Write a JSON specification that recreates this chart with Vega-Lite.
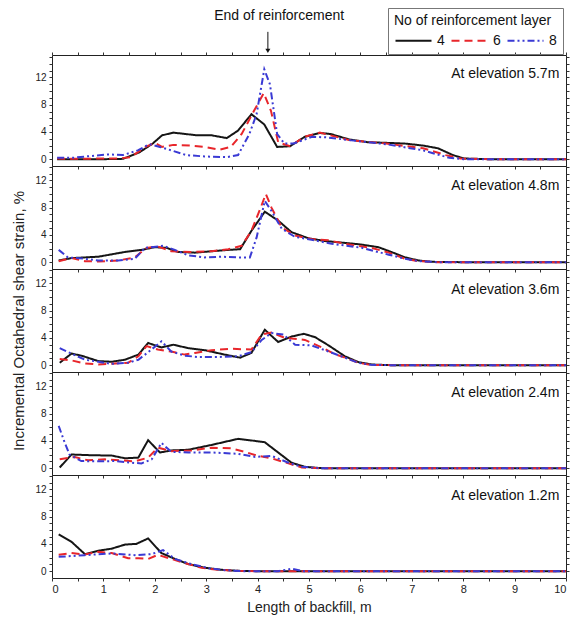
{
"$schema": "https://vega.github.io/schema/vega-lite/v6.json",
"padding": {"left": 11, "top": 7, "right": 2, "bottom": 5},
"config": {
  "font": "Liberation Sans",
  "view": {"stroke": "#222", "strokeWidth": 1},
  "axis": {"domain": false, "grid": false, "tickColor": "#333", "tickSize": 3, "labelFontSize": 10, "labelColor": "#222", "labelPadding": 3, "titleFontSize": 14, "titleFontWeight": "normal", "titleColor": "#222"},
  "legend": {"orient": "none", "legendX": 336, "legendY": -47, "direction": "horizontal", "strokeColor": "#777", "padding": 6, "titleFontSize": 14, "titleFontWeight": "normal", "titleColor": "#111", "labelFontSize": 14, "labelColor": "#111", "symbolType": "M-2.4,0L2.4,0", "symbolSize": 225, "symbolStrokeWidth": 2, "symbolOffset": 11, "columnPadding": 2, "labelOffset": 15, "titlePadding": 4}
},
"spacing": 0,
"bounds": "flush",
"resolve": {"scale": {"color": "shared", "strokeDash": "shared"}, "legend": {"color": "shared", "strokeDash": "shared"}},
"datasets": {
"d": [
{"p":"5.7","n":"4","x":0.1,"y":0},{"p":"5.7","n":"4","x":0.5,"y":0},{"p":"5.7","n":"4","x":1,"y":0},{"p":"5.7","n":"4","x":1.38,"y":0.05},{"p":"5.7","n":"4","x":1.7,"y":1.0},{"p":"5.7","n":"4","x":1.96,"y":2.3},{"p":"5.7","n":"4","x":2.14,"y":3.5},{"p":"5.7","n":"4","x":2.36,"y":3.9},{"p":"5.7","n":"4","x":2.83,"y":3.5},{"p":"5.7","n":"4","x":3.11,"y":3.5},{"p":"5.7","n":"4","x":3.4,"y":3.1},{"p":"5.7","n":"4","x":3.62,"y":4.2},{"p":"5.7","n":"4","x":3.88,"y":6.6},{"p":"5.7","n":"4","x":4.13,"y":5.1},{"p":"5.7","n":"4","x":4.38,"y":1.8},{"p":"5.7","n":"4","x":4.63,"y":1.9},{"p":"5.7","n":"4","x":4.92,"y":3.3},{"p":"5.7","n":"4","x":5.21,"y":3.85},{"p":"5.7","n":"4","x":5.42,"y":3.7},{"p":"5.7","n":"4","x":5.78,"y":2.9},{"p":"5.7","n":"4","x":6.14,"y":2.5},{"p":"5.7","n":"4","x":6.86,"y":2.3},{"p":"5.7","n":"4","x":7.22,"y":2.0},{"p":"5.7","n":"4","x":7.51,"y":1.6},{"p":"5.7","n":"4","x":7.8,"y":0.6},{"p":"5.7","n":"4","x":8.02,"y":0.1},{"p":"5.7","n":"4","x":8.5,"y":0},{"p":"5.7","n":"4","x":9,"y":0},{"p":"5.7","n":"4","x":9.5,"y":0},{"p":"5.7","n":"4","x":10,"y":0},
{"p":"5.7","n":"6","x":0.1,"y":0.1},{"p":"5.7","n":"6","x":0.5,"y":0.05},{"p":"5.7","n":"6","x":1,"y":0.1},{"p":"5.7","n":"6","x":1.3,"y":0.1},{"p":"5.7","n":"6","x":1.53,"y":0.3},{"p":"5.7","n":"6","x":1.82,"y":1.8},{"p":"5.7","n":"6","x":2.0,"y":2.4},{"p":"5.7","n":"6","x":2.14,"y":1.8},{"p":"5.7","n":"6","x":2.36,"y":2.1},{"p":"5.7","n":"6","x":2.68,"y":2.0},{"p":"5.7","n":"6","x":2.97,"y":1.8},{"p":"5.7","n":"6","x":3.26,"y":1.4},{"p":"5.7","n":"6","x":3.48,"y":1.8},{"p":"5.7","n":"6","x":3.69,"y":3.7},{"p":"5.7","n":"6","x":3.93,"y":7.1},{"p":"5.7","n":"6","x":4.12,"y":9.7},{"p":"5.7","n":"6","x":4.26,"y":7.1},{"p":"5.7","n":"6","x":4.4,"y":2.5},{"p":"5.7","n":"6","x":4.63,"y":1.9},{"p":"5.7","n":"6","x":4.92,"y":3.3},{"p":"5.7","n":"6","x":5.21,"y":3.9},{"p":"5.7","n":"6","x":5.78,"y":2.8},{"p":"5.7","n":"6","x":6.5,"y":2.3},{"p":"5.7","n":"6","x":7.22,"y":1.6},{"p":"5.7","n":"6","x":7.66,"y":0.6},{"p":"5.7","n":"6","x":7.95,"y":0.1},{"p":"5.7","n":"6","x":8.5,"y":0},{"p":"5.7","n":"6","x":9,"y":0},{"p":"5.7","n":"6","x":9.5,"y":0},{"p":"5.7","n":"6","x":10,"y":0},
{"p":"5.7","n":"8","x":0.1,"y":0.2},{"p":"5.7","n":"8","x":0.4,"y":0.2},{"p":"5.7","n":"8","x":0.66,"y":0.4},{"p":"5.7","n":"8","x":1.1,"y":0.7},{"p":"5.7","n":"8","x":1.38,"y":0.6},{"p":"5.7","n":"8","x":1.67,"y":1.3},{"p":"5.7","n":"8","x":1.89,"y":2.2},{"p":"5.7","n":"8","x":2.1,"y":1.8},{"p":"5.7","n":"8","x":2.32,"y":1.3},{"p":"5.7","n":"8","x":2.61,"y":0.6},{"p":"5.7","n":"8","x":2.97,"y":0.4},{"p":"5.7","n":"8","x":3.4,"y":0.3},{"p":"5.7","n":"8","x":3.62,"y":0.6},{"p":"5.7","n":"8","x":3.84,"y":3.7},{"p":"5.7","n":"8","x":3.98,"y":6.6},{"p":"5.7","n":"8","x":4.13,"y":13.2},{"p":"5.7","n":"8","x":4.24,"y":11},{"p":"5.7","n":"8","x":4.38,"y":3.7},{"p":"5.7","n":"8","x":4.52,"y":2.3},{"p":"5.7","n":"8","x":4.7,"y":2.3},{"p":"5.7","n":"8","x":5.06,"y":3.3},{"p":"5.7","n":"8","x":5.35,"y":3.2},{"p":"5.7","n":"8","x":5.78,"y":2.8},{"p":"5.7","n":"8","x":6.5,"y":2.2},{"p":"5.7","n":"8","x":7.22,"y":1.3},{"p":"5.7","n":"8","x":7.73,"y":0.2},{"p":"5.7","n":"8","x":8,"y":0},{"p":"5.7","n":"8","x":8.5,"y":0},{"p":"5.7","n":"8","x":9,"y":0},{"p":"5.7","n":"8","x":9.5,"y":0},{"p":"5.7","n":"8","x":10,"y":0},
{"p":"4.8","n":"4","x":0.13,"y":0.25},{"p":"4.8","n":"4","x":0.38,"y":0.6},{"p":"4.8","n":"4","x":0.9,"y":0.8},{"p":"4.8","n":"4","x":1.42,"y":1.5},{"p":"4.8","n":"4","x":1.74,"y":1.8},{"p":"4.8","n":"4","x":2.0,"y":2.2},{"p":"4.8","n":"4","x":2.23,"y":2.1},{"p":"4.8","n":"4","x":2.45,"y":1.5},{"p":"4.8","n":"4","x":2.78,"y":1.4},{"p":"4.8","n":"4","x":3.1,"y":1.6},{"p":"4.8","n":"4","x":3.43,"y":1.8},{"p":"4.8","n":"4","x":3.66,"y":1.9},{"p":"4.8","n":"4","x":3.88,"y":4.6},{"p":"4.8","n":"4","x":4.14,"y":7.4},{"p":"4.8","n":"4","x":4.4,"y":6.1},{"p":"4.8","n":"4","x":4.66,"y":4.4},{"p":"4.8","n":"4","x":4.99,"y":3.5},{"p":"4.8","n":"4","x":5.31,"y":3.1},{"p":"4.8","n":"4","x":5.6,"y":2.9},{"p":"4.8","n":"4","x":6.0,"y":2.6},{"p":"4.8","n":"4","x":6.35,"y":2.2},{"p":"4.8","n":"4","x":6.6,"y":1.5},{"p":"4.8","n":"4","x":6.87,"y":0.7},{"p":"4.8","n":"4","x":7.13,"y":0.25},{"p":"4.8","n":"4","x":7.39,"y":0.05},{"p":"4.8","n":"4","x":8,"y":0},{"p":"4.8","n":"4","x":9,"y":0},{"p":"4.8","n":"4","x":10,"y":0},
{"p":"4.8","n":"6","x":0.13,"y":0.15},{"p":"4.8","n":"6","x":0.38,"y":0.6},{"p":"4.8","n":"6","x":0.64,"y":0.15},{"p":"4.8","n":"6","x":0.9,"y":0.1},{"p":"4.8","n":"6","x":1.29,"y":0.25},{"p":"4.8","n":"6","x":1.61,"y":0.7},{"p":"4.8","n":"6","x":1.84,"y":2.1},{"p":"4.8","n":"6","x":2.06,"y":2.3},{"p":"4.8","n":"6","x":2.32,"y":1.6},{"p":"4.8","n":"6","x":2.71,"y":1.5},{"p":"4.8","n":"6","x":3.1,"y":1.6},{"p":"4.8","n":"6","x":3.43,"y":1.9},{"p":"4.8","n":"6","x":3.69,"y":2.4},{"p":"4.8","n":"6","x":3.88,"y":4.6},{"p":"4.8","n":"6","x":4.05,"y":7.8},{"p":"4.8","n":"6","x":4.16,"y":10.0},{"p":"4.8","n":"6","x":4.27,"y":8.0},{"p":"4.8","n":"6","x":4.47,"y":5.1},{"p":"4.8","n":"6","x":4.73,"y":3.9},{"p":"4.8","n":"6","x":5.05,"y":3.4},{"p":"4.8","n":"6","x":5.38,"y":3.2},{"p":"4.8","n":"6","x":5.7,"y":2.7},{"p":"4.8","n":"6","x":6.22,"y":2.1},{"p":"4.8","n":"6","x":6.55,"y":1.4},{"p":"4.8","n":"6","x":6.87,"y":0.5},{"p":"4.8","n":"6","x":7.13,"y":0.15},{"p":"4.8","n":"6","x":7.5,"y":0},{"p":"4.8","n":"6","x":8,"y":0},{"p":"4.8","n":"6","x":9,"y":0},{"p":"4.8","n":"6","x":10,"y":0},
{"p":"4.8","n":"8","x":0.13,"y":1.8},{"p":"4.8","n":"8","x":0.31,"y":0.7},{"p":"4.8","n":"8","x":0.64,"y":0.5},{"p":"4.8","n":"8","x":0.9,"y":0.25},{"p":"4.8","n":"8","x":1.29,"y":0.25},{"p":"4.8","n":"8","x":1.61,"y":0.5},{"p":"4.8","n":"8","x":1.81,"y":2.1},{"p":"4.8","n":"8","x":2.16,"y":2.4},{"p":"4.8","n":"8","x":2.39,"y":1.8},{"p":"4.8","n":"8","x":2.65,"y":1.0},{"p":"4.8","n":"8","x":2.97,"y":0.7},{"p":"4.8","n":"8","x":3.3,"y":0.8},{"p":"4.8","n":"8","x":3.62,"y":0.7},{"p":"4.8","n":"8","x":3.85,"y":0.7},{"p":"4.8","n":"8","x":3.98,"y":3.6},{"p":"4.8","n":"8","x":4.14,"y":9.0},{"p":"4.8","n":"8","x":4.27,"y":7.5},{"p":"4.8","n":"8","x":4.47,"y":4.9},{"p":"4.8","n":"8","x":4.73,"y":3.7},{"p":"4.8","n":"8","x":5.05,"y":3.3},{"p":"4.8","n":"8","x":5.44,"y":2.7},{"p":"4.8","n":"8","x":6.03,"y":2.1},{"p":"4.8","n":"8","x":6.55,"y":1.1},{"p":"4.8","n":"8","x":6.87,"y":0.5},{"p":"4.8","n":"8","x":7.13,"y":0.15},{"p":"4.8","n":"8","x":7.5,"y":0},{"p":"4.8","n":"8","x":8,"y":0},{"p":"4.8","n":"8","x":9,"y":0},{"p":"4.8","n":"8","x":10,"y":0},
{"p":"3.6","n":"4","x":0.15,"y":0.35},{"p":"3.6","n":"4","x":0.38,"y":1.7},{"p":"3.6","n":"4","x":0.57,"y":1.4},{"p":"3.6","n":"4","x":0.9,"y":0.6},{"p":"3.6","n":"4","x":1.16,"y":0.5},{"p":"3.6","n":"4","x":1.42,"y":0.8},{"p":"3.6","n":"4","x":1.68,"y":1.55},{"p":"3.6","n":"4","x":1.87,"y":3.25},{"p":"3.6","n":"4","x":2.13,"y":2.6},{"p":"3.6","n":"4","x":2.36,"y":3.0},{"p":"3.6","n":"4","x":2.65,"y":2.5},{"p":"3.6","n":"4","x":2.97,"y":2.2},{"p":"3.6","n":"4","x":3.36,"y":1.55},{"p":"3.6","n":"4","x":3.66,"y":1.1},{"p":"3.6","n":"4","x":3.88,"y":1.8},{"p":"3.6","n":"4","x":4.14,"y":5.2},{"p":"3.6","n":"4","x":4.4,"y":3.4},{"p":"3.6","n":"4","x":4.66,"y":4.2},{"p":"3.6","n":"4","x":4.9,"y":4.6},{"p":"3.6","n":"4","x":5.12,"y":4.1},{"p":"3.6","n":"4","x":5.38,"y":2.9},{"p":"3.6","n":"4","x":5.7,"y":1.3},{"p":"3.6","n":"4","x":5.96,"y":0.45},{"p":"3.6","n":"4","x":6.22,"y":0.1},{"p":"3.6","n":"4","x":6.6,"y":0},{"p":"3.6","n":"4","x":7,"y":0},{"p":"3.6","n":"4","x":8,"y":0},{"p":"3.6","n":"4","x":9,"y":0},{"p":"3.6","n":"4","x":10,"y":0},
{"p":"3.6","n":"6","x":0.15,"y":0.9},{"p":"3.6","n":"6","x":0.38,"y":0.7},{"p":"3.6","n":"6","x":0.64,"y":0.25},{"p":"3.6","n":"6","x":0.9,"y":0.1},{"p":"3.6","n":"6","x":1.16,"y":0.2},{"p":"3.6","n":"6","x":1.48,"y":0.35},{"p":"3.6","n":"6","x":1.68,"y":1.3},{"p":"3.6","n":"6","x":1.84,"y":2.8},{"p":"3.6","n":"6","x":2.06,"y":2.3},{"p":"3.6","n":"6","x":2.32,"y":2.0},{"p":"3.6","n":"6","x":2.58,"y":1.55},{"p":"3.6","n":"6","x":2.78,"y":1.8},{"p":"3.6","n":"6","x":3.1,"y":2.2},{"p":"3.6","n":"6","x":3.49,"y":2.4},{"p":"3.6","n":"6","x":3.88,"y":2.3},{"p":"3.6","n":"6","x":4.08,"y":4.5},{"p":"3.6","n":"6","x":4.27,"y":4.8},{"p":"3.6","n":"6","x":4.53,"y":4.0},{"p":"3.6","n":"6","x":4.92,"y":3.7},{"p":"3.6","n":"6","x":5.25,"y":2.6},{"p":"3.6","n":"6","x":5.51,"y":1.6},{"p":"3.6","n":"6","x":5.7,"y":1.1},{"p":"3.6","n":"6","x":5.96,"y":0.35},{"p":"3.6","n":"6","x":6.2,"y":0.05},{"p":"3.6","n":"6","x":6.6,"y":0},{"p":"3.6","n":"6","x":7,"y":0},{"p":"3.6","n":"6","x":8,"y":0},{"p":"3.6","n":"6","x":9,"y":0},{"p":"3.6","n":"6","x":10,"y":0},
{"p":"3.6","n":"8","x":0.15,"y":2.5},{"p":"3.6","n":"8","x":0.38,"y":1.7},{"p":"3.6","n":"8","x":0.64,"y":0.8},{"p":"3.6","n":"8","x":0.9,"y":0.5},{"p":"3.6","n":"8","x":1.16,"y":0.2},{"p":"3.6","n":"8","x":1.48,"y":0.35},{"p":"3.6","n":"8","x":1.68,"y":0.8},{"p":"3.6","n":"8","x":1.87,"y":1.9},{"p":"3.6","n":"8","x":2.13,"y":3.5},{"p":"3.6","n":"8","x":2.32,"y":2.0},{"p":"3.6","n":"8","x":2.58,"y":1.4},{"p":"3.6","n":"8","x":2.84,"y":1.2},{"p":"3.6","n":"8","x":3.23,"y":1.2},{"p":"3.6","n":"8","x":3.62,"y":1.3},{"p":"3.6","n":"8","x":3.88,"y":1.9},{"p":"3.6","n":"8","x":4.08,"y":3.7},{"p":"3.6","n":"8","x":4.27,"y":4.7},{"p":"3.6","n":"8","x":4.5,"y":4.5},{"p":"3.6","n":"8","x":4.73,"y":3.0},{"p":"3.6","n":"8","x":5.05,"y":2.9},{"p":"3.6","n":"8","x":5.38,"y":2.0},{"p":"3.6","n":"8","x":5.7,"y":1.1},{"p":"3.6","n":"8","x":5.96,"y":0.35},{"p":"3.6","n":"8","x":6.2,"y":0.05},{"p":"3.6","n":"8","x":6.6,"y":0},{"p":"3.6","n":"8","x":7,"y":0},{"p":"3.6","n":"8","x":8,"y":0},{"p":"3.6","n":"8","x":9,"y":0},{"p":"3.6","n":"8","x":10,"y":0},
{"p":"2.4","n":"4","x":0.15,"y":0.1},{"p":"2.4","n":"4","x":0.38,"y":2.0},{"p":"2.4","n":"4","x":0.77,"y":1.9},{"p":"2.4","n":"4","x":1.16,"y":1.85},{"p":"2.4","n":"4","x":1.42,"y":1.45},{"p":"2.4","n":"4","x":1.68,"y":1.55},{"p":"2.4","n":"4","x":1.87,"y":4.1},{"p":"2.4","n":"4","x":2.1,"y":2.3},{"p":"2.4","n":"4","x":2.32,"y":2.6},{"p":"2.4","n":"4","x":2.65,"y":2.7},{"p":"2.4","n":"4","x":3.1,"y":3.4},{"p":"2.4","n":"4","x":3.62,"y":4.3},{"p":"2.4","n":"4","x":3.95,"y":4.0},{"p":"2.4","n":"4","x":4.14,"y":3.8},{"p":"2.4","n":"4","x":4.4,"y":2.3},{"p":"2.4","n":"4","x":4.66,"y":0.8},{"p":"2.4","n":"4","x":4.92,"y":0.2},{"p":"2.4","n":"4","x":5.25,"y":0},{"p":"2.4","n":"4","x":6,"y":0},{"p":"2.4","n":"4","x":7,"y":0},{"p":"2.4","n":"4","x":8,"y":0},{"p":"2.4","n":"4","x":9,"y":0},{"p":"2.4","n":"4","x":10,"y":0},
{"p":"2.4","n":"6","x":0.15,"y":1.3},{"p":"2.4","n":"6","x":0.44,"y":1.65},{"p":"2.4","n":"6","x":0.7,"y":1.15},{"p":"2.4","n":"6","x":1.03,"y":1.3},{"p":"2.4","n":"6","x":1.35,"y":1.15},{"p":"2.4","n":"6","x":1.61,"y":1.0},{"p":"2.4","n":"6","x":1.87,"y":1.55},{"p":"2.4","n":"6","x":2.06,"y":3.0},{"p":"2.4","n":"6","x":2.32,"y":2.5},{"p":"2.4","n":"6","x":2.71,"y":2.6},{"p":"2.4","n":"6","x":3.1,"y":3.0},{"p":"2.4","n":"6","x":3.49,"y":2.9},{"p":"2.4","n":"6","x":3.75,"y":2.4},{"p":"2.4","n":"6","x":4.01,"y":1.8},{"p":"2.4","n":"6","x":4.27,"y":1.45},{"p":"2.4","n":"6","x":4.6,"y":0.7},{"p":"2.4","n":"6","x":4.86,"y":0.1},{"p":"2.4","n":"6","x":5.2,"y":0},{"p":"2.4","n":"6","x":6,"y":0},{"p":"2.4","n":"6","x":7,"y":0},{"p":"2.4","n":"6","x":8,"y":0},{"p":"2.4","n":"6","x":9,"y":0},{"p":"2.4","n":"6","x":10,"y":0},
{"p":"2.4","n":"8","x":0.13,"y":6.2},{"p":"2.4","n":"8","x":0.25,"y":3.7},{"p":"2.4","n":"8","x":0.34,"y":2.0},{"p":"2.4","n":"8","x":0.57,"y":1.05},{"p":"2.4","n":"8","x":0.9,"y":1.0},{"p":"2.4","n":"8","x":1.22,"y":1.05},{"p":"2.4","n":"8","x":1.55,"y":0.8},{"p":"2.4","n":"8","x":1.74,"y":0.7},{"p":"2.4","n":"8","x":1.94,"y":1.3},{"p":"2.4","n":"8","x":2.13,"y":3.7},{"p":"2.4","n":"8","x":2.32,"y":2.4},{"p":"2.4","n":"8","x":2.65,"y":2.3},{"p":"2.4","n":"8","x":3.1,"y":2.3},{"p":"2.4","n":"8","x":3.62,"y":2.1},{"p":"2.4","n":"8","x":3.95,"y":1.65},{"p":"2.4","n":"8","x":4.27,"y":1.8},{"p":"2.4","n":"8","x":4.6,"y":0.8},{"p":"2.4","n":"8","x":4.86,"y":0.2},{"p":"2.4","n":"8","x":5.2,"y":0},{"p":"2.4","n":"8","x":6,"y":0},{"p":"2.4","n":"8","x":7,"y":0},{"p":"2.4","n":"8","x":8,"y":0},{"p":"2.4","n":"8","x":9,"y":0},{"p":"2.4","n":"8","x":10,"y":0},
{"p":"1.2","n":"4","x":0.13,"y":5.4},{"p":"1.2","n":"4","x":0.38,"y":4.3},{"p":"1.2","n":"4","x":0.64,"y":2.5},{"p":"1.2","n":"4","x":0.9,"y":3.0},{"p":"1.2","n":"4","x":1.16,"y":3.3},{"p":"1.2","n":"4","x":1.42,"y":3.9},{"p":"1.2","n":"4","x":1.64,"y":4.0},{"p":"1.2","n":"4","x":1.87,"y":4.8},{"p":"1.2","n":"4","x":2.13,"y":2.65},{"p":"1.2","n":"4","x":2.39,"y":1.8},{"p":"1.2","n":"4","x":2.65,"y":1.05},{"p":"1.2","n":"4","x":2.97,"y":0.5},{"p":"1.2","n":"4","x":3.3,"y":0.2},{"p":"1.2","n":"4","x":3.62,"y":0.05},{"p":"1.2","n":"4","x":4,"y":0},{"p":"1.2","n":"4","x":5,"y":0},{"p":"1.2","n":"4","x":6,"y":0},{"p":"1.2","n":"4","x":7,"y":0},{"p":"1.2","n":"4","x":8,"y":0},{"p":"1.2","n":"4","x":9,"y":0},{"p":"1.2","n":"4","x":10,"y":0},
{"p":"1.2","n":"6","x":0.13,"y":2.4},{"p":"1.2","n":"6","x":0.38,"y":2.65},{"p":"1.2","n":"6","x":0.64,"y":2.45},{"p":"1.2","n":"6","x":0.9,"y":2.85},{"p":"1.2","n":"6","x":1.16,"y":2.65},{"p":"1.2","n":"6","x":1.48,"y":1.9},{"p":"1.2","n":"6","x":1.68,"y":1.9},{"p":"1.2","n":"6","x":1.87,"y":1.8},{"p":"1.2","n":"6","x":2.06,"y":2.4},{"p":"1.2","n":"6","x":2.32,"y":1.8},{"p":"1.2","n":"6","x":2.58,"y":1.2},{"p":"1.2","n":"6","x":2.91,"y":0.5},{"p":"1.2","n":"6","x":3.23,"y":0.2},{"p":"1.2","n":"6","x":3.62,"y":0.05},{"p":"1.2","n":"6","x":4,"y":0},{"p":"1.2","n":"6","x":5,"y":0},{"p":"1.2","n":"6","x":6,"y":0},{"p":"1.2","n":"6","x":7,"y":0},{"p":"1.2","n":"6","x":8,"y":0},{"p":"1.2","n":"6","x":9,"y":0},{"p":"1.2","n":"6","x":10,"y":0},
{"p":"1.2","n":"8","x":0.13,"y":2.1},{"p":"1.2","n":"8","x":0.64,"y":2.35},{"p":"1.2","n":"8","x":1.16,"y":2.6},{"p":"1.2","n":"8","x":1.61,"y":2.35},{"p":"1.2","n":"8","x":1.94,"y":2.5},{"p":"1.2","n":"8","x":2.16,"y":3.1},{"p":"1.2","n":"8","x":2.39,"y":1.8},{"p":"1.2","n":"8","x":2.71,"y":1.05},{"p":"1.2","n":"8","x":3.04,"y":0.45},{"p":"1.2","n":"8","x":3.36,"y":0.15},{"p":"1.2","n":"8","x":3.7,"y":0},{"p":"1.2","n":"8","x":4.4,"y":0},{"p":"1.2","n":"8","x":4.66,"y":0.35},{"p":"1.2","n":"8","x":4.9,"y":0},{"p":"1.2","n":"8","x":6,"y":0},{"p":"1.2","n":"8","x":7,"y":0},{"p":"1.2","n":"8","x":8,"y":0},{"p":"1.2","n":"8","x":9,"y":0},{"p":"1.2","n":"8","x":10,"y":0}
]
},
"vconcat": [
{
 "width": 514, "height": 111,
 "layer": [
  {"data": {"name": "d"}, "transform": [{"filter": "datum.p == '5.7'"}],
   "mark": {"type": "line", "strokeWidth": 2, "clip": true},
   "encoding": {
    "x": {"field": "x", "type": "quantitative", "scale": {"domain": [0, 10], "nice": false}, "axis": {"values": [0,0.5,1,1.5,2,2.5,3,3.5,4,4.5,5,5.5,6,6.5,7,7.5,8,8.5,9,9.5,10], "labels": false, "title": null}},
    "y": {"field": "y", "type": "quantitative", "scale": {"domain": [-1, 15.3], "nice": false, "zero": false}, "axis": {"values": [0,1,2,3,4,5,6,7,8,9,10,11,12,13,14,15], "labelExpr": "datum.value % 4 == 0 ? datum.label : ''", "title": null}},
    "color": {"field": "n", "type": "nominal", "title": "No of reinforcement layer", "scale": {"domain": ["4","6","8"], "range": ["#151515","#e8262b","#3a3ad4"]}},
    "strokeDash": {"field": "n", "type": "nominal", "title": "No of reinforcement layer", "scale": {"domain": ["4","6","8"], "range": [[1,0],[8,5],[7,3,2,3,2,3]]}}
   }},
  {"data": {"values": [{"t": "At elevation 5.7m", "x": 9.87, "y": 12.5}]},
   "mark": {"type": "text", "align": "right", "baseline": "middle", "fontSize": 14, "color": "#111"},
   "encoding": {
    "x": {"field": "x", "type": "quantitative", "axis": {"orient": "top", "values": [0,0.5,1,1.5,2,2.5,3,3.5,4,4.5,5,5.5,6,6.5,7,7.5,8,8.5,9,9.5,10], "labels": false, "title": null}},
    "y": {"field": "y", "type": "quantitative", "axis": {"orient": "right", "values": [0,1,2,3,4,5,6,7,8,9,10,11,12,13,14,15], "labels": false, "title": null}},
    "text": {"field": "t"}
   }},
  {"data": {"values": [{"t": "End of reinforcement", "x": 4.42, "y": 21.1}]},
   "mark": {"type": "text", "align": "center", "baseline": "middle", "fontSize": 14, "color": "#111"},
   "encoding": {"x": {"field": "x", "type": "quantitative", "axis": null}, "y": {"field": "y", "type": "quantitative", "axis": null}, "text": {"field": "t"}}},
  {"data": {"values": [{"x": 4.2, "y": 18.7, "y2": 16.0}]},
   "mark": {"type": "rule", "color": "#111", "strokeWidth": 1},
   "encoding": {"x": {"field": "x", "type": "quantitative", "axis": null}, "y": {"field": "y", "type": "quantitative", "axis": null}, "y2": {"field": "y2"}}},
  {"data": {"values": [{"x": 4.2, "y": 15.9}]},
   "mark": {"type": "point", "shape": "triangle-down", "filled": true, "color": "#111", "size": 25, "opacity": 1},
   "encoding": {"x": {"field": "x", "type": "quantitative", "axis": null}, "y": {"field": "y", "type": "quantitative", "axis": null}}}
 ],
 "resolve": {"axis": {"x": "independent", "y": "independent"}}
},
{
 "width": 514, "height": 103,
 "layer": [
  {"data": {"name": "d"}, "transform": [{"filter": "datum.p == '4.8'"}],
   "mark": {"type": "line", "strokeWidth": 2, "clip": true},
   "encoding": {
    "x": {"field": "x", "type": "quantitative", "scale": {"domain": [0, 10], "nice": false}, "axis": {"values": [0,0.5,1,1.5,2,2.5,3,3.5,4,4.5,5,5.5,6,6.5,7,7.5,8,8.5,9,9.5,10], "labels": false, "title": null}},
    "y": {"field": "y", "type": "quantitative", "scale": {"domain": [-1, 14.1], "nice": false, "zero": false}, "axis": {"values": [0,1,2,3,4,5,6,7,8,9,10,11,12,13,14], "labelExpr": "datum.value % 4 == 0 ? datum.label : ''", "title": null}},
    "color": {"field": "n", "type": "nominal", "title": "No of reinforcement layer"},
    "strokeDash": {"field": "n", "type": "nominal", "title": "No of reinforcement layer"}
   }},
  {"data": {"values": [{"t": "At elevation 4.8m", "x": 9.87, "y": 11.1}]},
   "mark": {"type": "text", "align": "right", "baseline": "middle", "fontSize": 14, "color": "#111"},
   "encoding": {
    "x": {"field": "x", "type": "quantitative", "axis": null},
    "y": {"field": "y", "type": "quantitative", "axis": {"orient": "right", "values": [0,1,2,3,4,5,6,7,8,9,10,11,12,13,14], "labels": false, "title": null}},
    "text": {"field": "t"}
   }}
 ],
 "resolve": {"axis": {"x": "independent", "y": "independent"}}
},
{
 "width": 514, "height": 103,
 "layer": [
  {"data": {"name": "d"}, "transform": [{"filter": "datum.p == '3.6'"}],
   "mark": {"type": "line", "strokeWidth": 2, "clip": true},
   "encoding": {
    "x": {"field": "x", "type": "quantitative", "scale": {"domain": [0, 10], "nice": false}, "axis": {"values": [0,0.5,1,1.5,2,2.5,3,3.5,4,4.5,5,5.5,6,6.5,7,7.5,8,8.5,9,9.5,10], "labels": false, "title": null}},
    "y": {"field": "y", "type": "quantitative", "scale": {"domain": [-1, 14.1], "nice": false, "zero": false}, "axis": {"values": [0,1,2,3,4,5,6,7,8,9,10,11,12,13,14], "labelExpr": "datum.value % 4 == 0 ? datum.label : ''", "title": "Incremental Octahedral shear strain, %", "titlePadding": 8, "titleFontSize": 15}},
    "color": {"field": "n", "type": "nominal", "title": "No of reinforcement layer"},
    "strokeDash": {"field": "n", "type": "nominal", "title": "No of reinforcement layer"}
   }},
  {"data": {"values": [{"t": "At elevation 3.6m", "x": 9.87, "y": 11.0}]},
   "mark": {"type": "text", "align": "right", "baseline": "middle", "fontSize": 14, "color": "#111"},
   "encoding": {
    "x": {"field": "x", "type": "quantitative", "axis": null},
    "y": {"field": "y", "type": "quantitative", "axis": {"orient": "right", "values": [0,1,2,3,4,5,6,7,8,9,10,11,12,13,14], "labels": false, "title": null}},
    "text": {"field": "t"}
   }}
 ],
 "resolve": {"axis": {"x": "independent", "y": "independent"}}
},
{
 "width": 514, "height": 103,
 "layer": [
  {"data": {"name": "d"}, "transform": [{"filter": "datum.p == '2.4'"}],
   "mark": {"type": "line", "strokeWidth": 2, "clip": true},
   "encoding": {
    "x": {"field": "x", "type": "quantitative", "scale": {"domain": [0, 10], "nice": false}, "axis": {"values": [0,0.5,1,1.5,2,2.5,3,3.5,4,4.5,5,5.5,6,6.5,7,7.5,8,8.5,9,9.5,10], "labels": false, "title": null}},
    "y": {"field": "y", "type": "quantitative", "scale": {"domain": [-1, 14.1], "nice": false, "zero": false}, "axis": {"values": [0,1,2,3,4,5,6,7,8,9,10,11,12,13,14], "labelExpr": "datum.value % 4 == 0 ? datum.label : ''", "title": null}},
    "color": {"field": "n", "type": "nominal", "title": "No of reinforcement layer"},
    "strokeDash": {"field": "n", "type": "nominal", "title": "No of reinforcement layer"}
   }},
  {"data": {"values": [{"t": "At elevation 2.4m", "x": 9.87, "y": 11.0}]},
   "mark": {"type": "text", "align": "right", "baseline": "middle", "fontSize": 14, "color": "#111"},
   "encoding": {
    "x": {"field": "x", "type": "quantitative", "axis": null},
    "y": {"field": "y", "type": "quantitative", "axis": {"orient": "right", "values": [0,1,2,3,4,5,6,7,8,9,10,11,12,13,14], "labels": false, "title": null}},
    "text": {"field": "t"}
   }}
 ],
 "resolve": {"axis": {"x": "independent", "y": "independent"}}
},
{
 "width": 514, "height": 103,
 "layer": [
  {"data": {"name": "d"}, "transform": [{"filter": "datum.p == '1.2'"}],
   "mark": {"type": "line", "strokeWidth": 2, "clip": true},
   "encoding": {
    "x": {"field": "x", "type": "quantitative", "scale": {"domain": [0, 10], "nice": false}, "axis": {"values": [0,0.5,1,1.5,2,2.5,3,3.5,4,4.5,5,5.5,6,6.5,7,7.5,8,8.5,9,9.5,10], "labelExpr": "datum.value % 1 == 0 ? format(datum.value, 'd') : ''", "title": "Length of backfill, m", "titlePadding": 6, "labelFontSize": 11, "labelPadding": 2}},
    "y": {"field": "y", "type": "quantitative", "scale": {"domain": [-1, 14.1], "nice": false, "zero": false}, "axis": {"values": [0,1,2,3,4,5,6,7,8,9,10,11,12,13,14], "labelExpr": "datum.value % 4 == 0 ? datum.label : ''", "title": null}},
    "color": {"field": "n", "type": "nominal", "title": "No of reinforcement layer"},
    "strokeDash": {"field": "n", "type": "nominal", "title": "No of reinforcement layer"}
   }},
  {"data": {"values": [{"t": "At elevation 1.2m", "x": 9.87, "y": 11.0}]},
   "mark": {"type": "text", "align": "right", "baseline": "middle", "fontSize": 14, "color": "#111"},
   "encoding": {
    "x": {"field": "x", "type": "quantitative", "axis": null},
    "y": {"field": "y", "type": "quantitative", "axis": {"orient": "right", "values": [0,1,2,3,4,5,6,7,8,9,10,11,12,13,14], "labels": false, "title": null}},
    "text": {"field": "t"}
   }}
 ],
 "resolve": {"axis": {"x": "independent", "y": "independent"}}
}
]
}
